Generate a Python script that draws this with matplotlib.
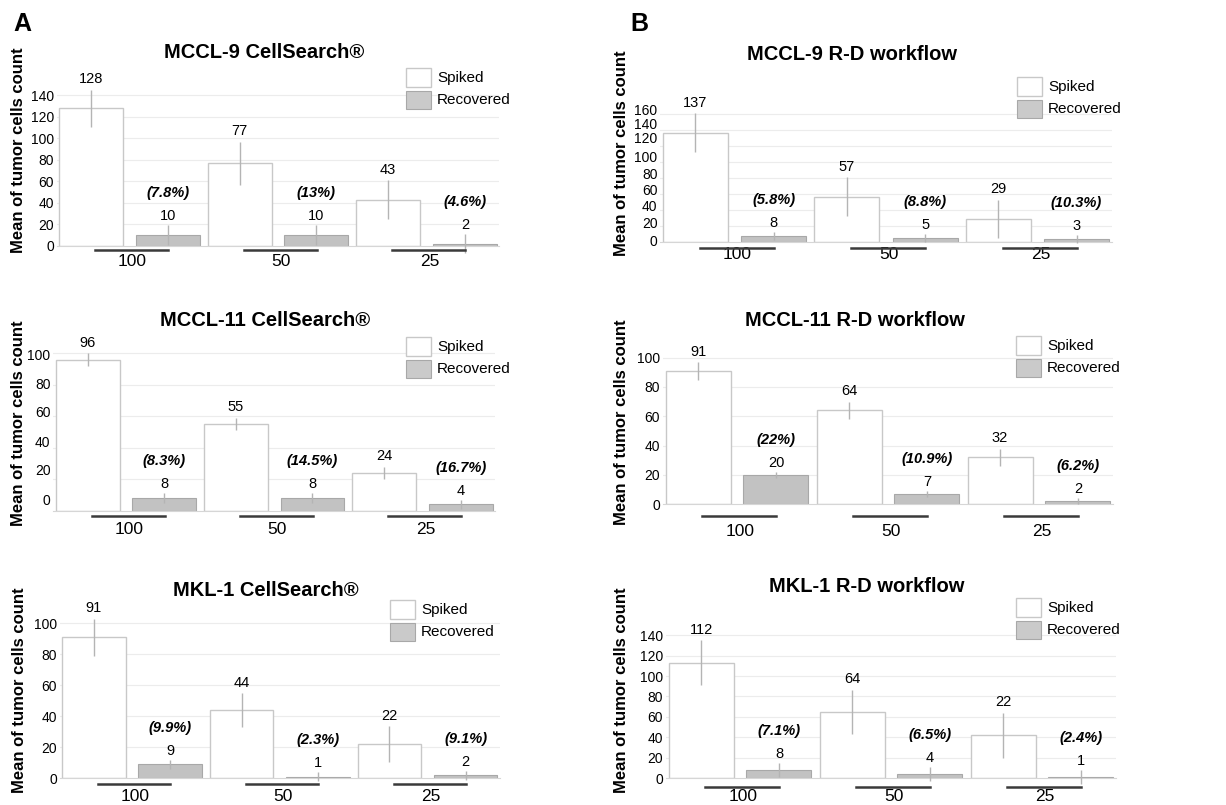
import matplotlib.pyplot as plt
from matplotlib.patches import Rectangle
from matplotlib.transforms import ScaledTranslation
import numpy as np

plt.rcParams['font.family'] = ['Liberation Sans', 'DejaVu Sans']

W, H = 1226, 805

doses = ['100', '50', '25']

# bar heights as drawn, label text as printed, error bar half-lengths
mccl9_cs_spiked = [128, 77, 43]
mccl9_cs_recovered = [10, 10, 2]
mccl9_cs_spiked_err = [17.5, 20, 18]
mccl9_cs_recovered_err = [9, 9, 9]
mccl9_cs_pct = ['(7.8%)', '(13%)', '(4.6%)']

mccl9_rd_spiked = [137, 57, 29]
mccl9_rd_recovered = [8, 5, 4]
mccl9_rd_spiked_err = [24, 24, 24]
mccl9_rd_recovered_err = [5, 5, 5]
mccl9_rd_recovered_text = ['8', '5', '3']
mccl9_rd_pct = ['(5.8%)', '(8.8%)', '(10.3%)']
# tick labels in this panel sit off the grid in the original figure
mccl9_rd_tick_pos = [2, 24.5, 46.6, 66.6, 86.3, 107, 130.8, 148.8, 166.6]

mccl11_cs_spiked = [96, 55, 24]
mccl11_cs_recovered = [8, 8, 4]
mccl11_cs_spiked_err = [4, 4, 4]
mccl11_cs_recovered_err = [3, 3, 3]
mccl11_cs_pct = ['(8.3%)', '(14.5%)', '(16.7%)']
mccl11_cs_tick_pos = [6.8, 26.3, 43.8, 62.9, 80.9, 99]

mccl11_rd_spiked = [91, 64, 32]
mccl11_rd_recovered = [20, 7, 2]
mccl11_rd_spiked_err = [6, 6, 6]
mccl11_rd_recovered_err = [2, 2, 2]
mccl11_rd_pct = ['(22%)', '(10.9%)', '(6.2%)']

mkl1_cs_spiked = [91, 44, 22]
mkl1_cs_recovered = [9, 1, 2]
mkl1_cs_spiked_err = [12, 11, 11.5]
mkl1_cs_recovered_err = [3, 3, 3]
mkl1_cs_pct = ['(9.9%)', '(2.3%)', '(9.1%)']

mkl1_rd_spiked = [113, 65, 42]
mkl1_rd_recovered = [8, 4, 1]
mkl1_rd_spiked_err = [22, 21.5, 22]
mkl1_rd_recovered_err = [7, 7, 7]
mkl1_rd_spiked_text = ['112', '64', '22']
mkl1_rd_pct = ['(7.1%)', '(6.5%)', '(2.4%)']


def txt(vals):
    return [str(v) for v in vals]


panels = [
    dict(title='MCCL-9 CellSearch®', sp=mccl9_cs_spiked, rc=mccl9_cs_recovered,
         sp_err=mccl9_cs_spiked_err, rc_err=mccl9_cs_recovered_err,
         sp_txt=txt(mccl9_cs_spiked), rc_txt=txt(mccl9_cs_recovered), pct=mccl9_cs_pct,
         ticks=np.arange(0, 141, 20), tick_pos=None,
         c0=129.5, step=148.5, base=245.7, ppu=1.073, ymax=140,
         title_xy=(264, 53), ylab_xy=(19, 150), leg_xy=(406, 68), ul=4.5, xl=15.5),
    dict(title='MCCL-9 R-D workflow', sp=mccl9_rd_spiked, rc=mccl9_rd_recovered,
         sp_err=mccl9_rd_spiked_err, rc_err=mccl9_rd_recovered_err,
         sp_txt=txt(mccl9_rd_spiked), rc_txt=mccl9_rd_recovered_text, pct=mccl9_rd_pct,
         ticks=np.arange(0, 161, 20), tick_pos=mccl9_rd_tick_pos,
         c0=734.5, step=151.5, base=242.3, ppu=0.80, ymax=160,
         title_xy=(852, 55), ylab_xy=(621, 153), leg_xy=(1017, 77), ul=6, xl=12.5),
    dict(title='MCCL-11 CellSearch®', sp=mccl11_cs_spiked, rc=mccl11_cs_recovered,
         sp_err=mccl11_cs_spiked_err, rc_err=mccl11_cs_recovered_err,
         sp_txt=txt(mccl11_cs_spiked), rc_txt=txt(mccl11_cs_recovered), pct=mccl11_cs_pct,
         ticks=np.arange(0, 101, 20), tick_pos=mccl11_cs_tick_pos,
         c0=126, step=148.25, base=510.7, ppu=1.574, ymax=100,
         title_xy=(265, 320), ylab_xy=(19, 423), leg_xy=(406, 337), ul=5, xl=19),
    dict(title='MCCL-11 R-D workflow', sp=mccl11_rd_spiked, rc=mccl11_rd_recovered,
         sp_err=mccl11_rd_spiked_err, rc_err=mccl11_rd_recovered_err,
         sp_txt=txt(mccl11_rd_spiked), rc_txt=txt(mccl11_rd_recovered), pct=mccl11_rd_pct,
         ticks=np.arange(0, 101, 20), tick_pos=None,
         c0=737, step=151, base=504.3, ppu=1.467, ymax=100,
         title_xy=(855, 320), ylab_xy=(621, 422), leg_xy=(1016, 336), ul=11.5, xl=27),
    dict(title='MKL-1 CellSearch®', sp=mkl1_cs_spiked, rc=mkl1_cs_recovered,
         sp_err=mkl1_cs_spiked_err, rc_err=mkl1_cs_recovered_err,
         sp_txt=txt(mkl1_cs_spiked), rc_txt=txt(mkl1_cs_recovered), pct=mkl1_cs_pct,
         ticks=np.arange(0, 101, 20), tick_pos=None,
         c0=132, step=147.75, base=778.3, ppu=1.55, ymax=100,
         title_xy=(266, 591), ylab_xy=(20, 690), leg_xy=(390, 600), ul=6, xl=18.5),
    dict(title='MKL-1 R-D workflow', sp=mkl1_rd_spiked, rc=mkl1_rd_recovered,
         sp_err=mkl1_rd_spiked_err, rc_err=mkl1_rd_recovered_err,
         sp_txt=mkl1_rd_spiked_text, rc_txt=txt(mkl1_rd_recovered), pct=mkl1_rd_pct,
         ticks=np.arange(0, 141, 20), tick_pos=None,
         c0=740, step=151, base=778.3, ppu=1.023, ymax=140,
         title_xy=(867, 587), ylab_xy=(621, 690), leg_xy=(1016, 598), ul=8.5, xl=18.5),
]

SPIKED_EDGE = '#c8c8c8'
REC_FACE = '#c2c2c2'
REC_EDGE = '#a8a8a8'
ERR_COLOR = '#b4b4b4'

fig = plt.figure(figsize=(W / 100, H / 100), dpi=100)


def fx(x):
    return x / W


def fy(y):
    return 1 - y / H


x = np.arange(len(doses))
bw = 0.43
off = 0.258

for p in panels:
    left = p['c0'] - 0.49 * p['step']
    width = 2.98 * p['step']
    ytop = p['ymax'] + 8
    height = ytop * p['ppu']
    ax = fig.add_axes([fx(left), fy(p['base']), width / W, height / H])
    ax.set_xlim(-0.49, 2.49)
    ax.set_ylim(0, ytop)

    ax.bar(x - off, p['sp'], width=bw, color='white', edgecolor=SPIKED_EDGE, linewidth=1.0, zorder=2)
    ax.bar(x + off, p['rc'], width=bw, color=REC_FACE, edgecolor=REC_EDGE, linewidth=0.8, zorder=2)
    ax.errorbar(x - off, p['sp'], yerr=p['sp_err'], fmt='none', ecolor=ERR_COLOR,
                elinewidth=1, capsize=0, zorder=3, clip_on=False)
    ax.errorbar(x + off, p['rc'], yerr=p['rc_err'], fmt='none', ecolor=ERR_COLOR,
                elinewidth=1, capsize=0, zorder=3, clip_on=False)

    # gridlines at the tick values
    for t in p['ticks'][1:]:
        ax.axhline(t, color='#ececec', linewidth=0.8, zorder=0)

    shift = ScaledTranslation(0, -p['ul'] / 100, fig.dpi_scale_trans)
    for i in range(len(doses)):
        top_s = p['sp'][i] + p['sp_err'][i]
        ax.annotate(p['sp_txt'][i], (x[i] - off, top_s), xytext=(0, 7.5),
                    textcoords='offset points', ha='center', va='center', fontsize=10.5,
                    annotation_clip=False)
        top_r = p['rc'][i] + p['rc_err'][i]
        ax.annotate(p['rc_txt'][i], (x[i] + off, top_r), xytext=(0, 6.5),
                    textcoords='offset points', ha='center', va='center', fontsize=10.5,
                    annotation_clip=False)
        ax.annotate(p['pct'][i], (x[i] + off, top_r), xytext=(0, 23),
                    textcoords='offset points', ha='center', va='center',
                    fontsize=10.5, fontweight='bold', fontstyle='italic', annotation_clip=False)
        # dark line under each dose group
        ax.plot([x[i] - 0.23, x[i] + 0.26], [0, 0], color='#3a3a3a', lw=1.8,
                clip_on=False, zorder=4, transform=ax.transData + shift)
        ax.annotate(doses[i], (x[i] + 0.02, 0), xytext=(0, -p['xl'] / 1.389),
                    textcoords='offset points', ha='center', va='center', fontsize=12.5,
                    annotation_clip=False)

    ax.set_xticks([])
    pos = p['tick_pos'] if p['tick_pos'] is not None else p['ticks']
    ax.set_yticks(pos)
    ax.set_yticklabels([str(t) for t in p['ticks']])
    ax.tick_params(axis='y', length=0, pad=2, labelsize=10)
    for s in ['top', 'right', 'left']:
        ax.spines[s].set_visible(False)
    ax.spines['bottom'].set_color('#d6d6d6')
    ax.spines['bottom'].set_linewidth(0.8)

    fig.text(fx(p['title_xy'][0]), fy(p['title_xy'][1]), p['title'], ha='center', va='center',
             fontsize=14.5, fontweight='bold')
    fig.text(fx(p['ylab_xy'][0]), fy(p['ylab_xy'][1]), 'Mean of tumor cells count', rotation=90,
             ha='center', va='center', fontsize=12, fontweight='bold')

    # legend boxes
    lx, ly = p['leg_xy']
    fig.patches.append(Rectangle((fx(lx), fy(ly + 19)), 25 / W, 19 / H, transform=fig.transFigure,
                                 facecolor='white', edgecolor=SPIKED_EDGE, linewidth=1))
    fig.patches.append(Rectangle((fx(lx), fy(ly + 41)), 25 / W, 18 / H, transform=fig.transFigure,
                                 facecolor='#cacaca', edgecolor=REC_EDGE, linewidth=0.8))
    fig.text(fx(lx + 31), fy(ly + 10), 'Spiked', ha='left', va='center', fontsize=11)
    fig.text(fx(lx + 31), fy(ly + 32), 'Recovered', ha='left', va='center', fontsize=11)

fig.text(fx(13), fy(24), 'A', ha='left', va='center', fontsize=18, fontweight='bold')
fig.text(fx(630), fy(24), 'B', ha='left', va='center', fontsize=18, fontweight='bold')

fig.savefig('out.png', dpi=100)
